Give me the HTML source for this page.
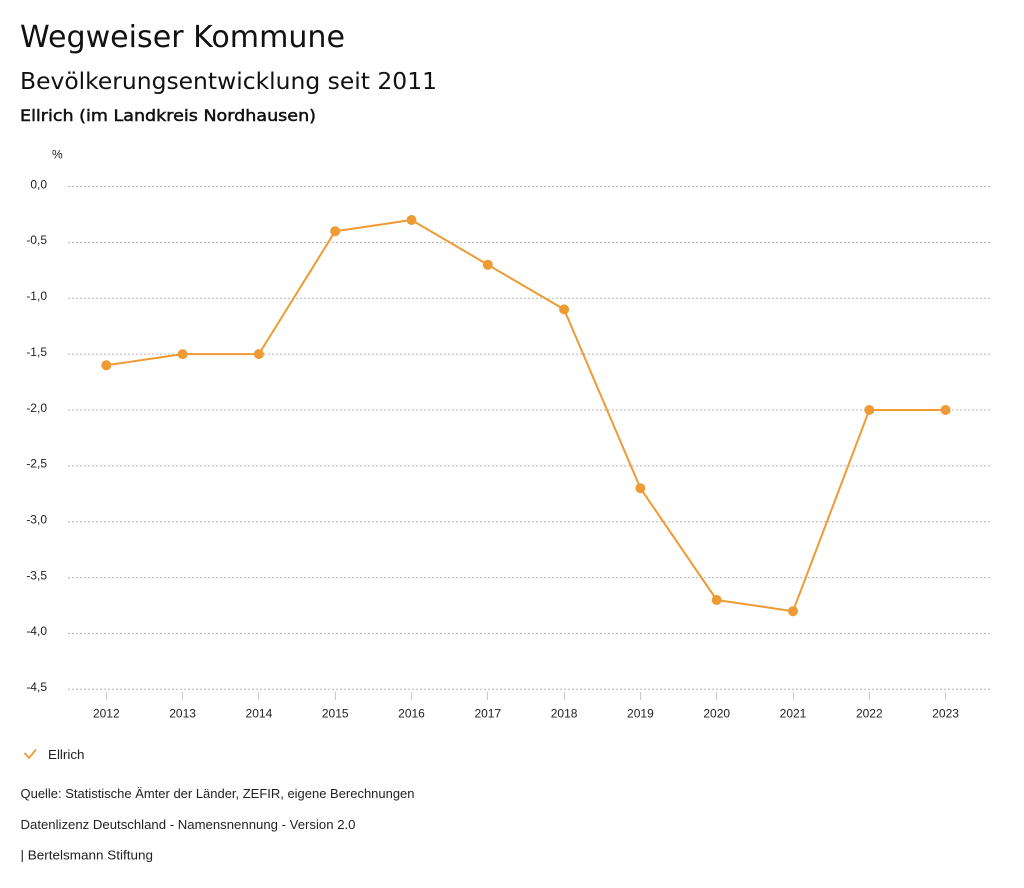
<!DOCTYPE html>
<html>
<head>
<meta charset="utf-8">
<style>
html,body{margin:0;padding:0;background:#fff;}
svg{display:block;}
</style>
</head>
<body>
<svg width="1024" height="888" viewBox="0 0 1024 888" xmlns="http://www.w3.org/2000/svg">
<rect width="1024" height="888" fill="#fff"/>
<g font-family="'DejaVu Sans', sans-serif" fill="#111">
<text x="20" y="47" font-size="30" textLength="325" lengthAdjust="spacingAndGlyphs">Wegweiser Kommune</text>
<text x="20" y="89" font-size="23.5" textLength="417" lengthAdjust="spacingAndGlyphs">Bevölkerungsentwicklung seit 2011</text>
<text x="20" y="121" font-size="16" stroke="#111" stroke-width="0.5" textLength="296" lengthAdjust="spacingAndGlyphs">Ellrich (im Landkreis Nordhausen)</text>
</g>
<g font-family="'Liberation Sans', sans-serif" font-size="12" fill="#222">
<text x="52" y="158.5">%</text>
<g text-anchor="end">
<text x="47" y="188.3">0,0</text>
<text x="47" y="244.2">-0,5</text>
<text x="47" y="300">-1,0</text>
<text x="47" y="355.9">-1,5</text>
<text x="47" y="411.8">-2,0</text>
<text x="47" y="467.6">-2,5</text>
<text x="47" y="523.5">-3,0</text>
<text x="47" y="579.4">-3,5</text>
<text x="47" y="635.2">-4,0</text>
<text x="47" y="691.1">-4,5</text>
</g>
</g>
<g stroke="#b5b5b5" stroke-width="1" stroke-dasharray="2,2">
<line x1="68" y1="186.5" x2="990" y2="186.5"/>
<line x1="68" y1="242.4" x2="990" y2="242.4"/>
<line x1="68" y1="298.2" x2="990" y2="298.2"/>
<line x1="68" y1="354.1" x2="990" y2="354.1"/>
<line x1="68" y1="410" x2="990" y2="410"/>
<line x1="68" y1="465.9" x2="990" y2="465.9"/>
<line x1="68" y1="521.7" x2="990" y2="521.7"/>
<line x1="68" y1="577.6" x2="990" y2="577.6"/>
<line x1="68" y1="633.5" x2="990" y2="633.5"/>
<line x1="68" y1="689.3" x2="990" y2="689.3"/>
</g>
<g stroke="#c8c8c8" stroke-width="1">
<line x1="106.5" y1="692" x2="106.5" y2="700"/>
<line x1="182.5" y1="692" x2="182.5" y2="700"/>
<line x1="258.5" y1="692" x2="258.5" y2="700"/>
<line x1="335.5" y1="692" x2="335.5" y2="700"/>
<line x1="411.5" y1="692" x2="411.5" y2="700"/>
<line x1="487.5" y1="692" x2="487.5" y2="700"/>
<line x1="564.5" y1="692" x2="564.5" y2="700"/>
<line x1="640.5" y1="692" x2="640.5" y2="700"/>
<line x1="716.5" y1="692" x2="716.5" y2="700"/>
<line x1="793.5" y1="692" x2="793.5" y2="700"/>
<line x1="869.5" y1="692" x2="869.5" y2="700"/>
<line x1="945.5" y1="692" x2="945.5" y2="700"/>
</g>
<g font-family="'Liberation Sans', sans-serif" font-size="12" fill="#222" text-anchor="middle">
<text x="106.3" y="717.5">2012</text>
<text x="182.6" y="717.5">2013</text>
<text x="258.9" y="717.5">2014</text>
<text x="335.2" y="717.5">2015</text>
<text x="411.5" y="717.5">2016</text>
<text x="487.8" y="717.5">2017</text>
<text x="564.1" y="717.5">2018</text>
<text x="640.4" y="717.5">2019</text>
<text x="716.7" y="717.5">2020</text>
<text x="793" y="717.5">2021</text>
<text x="869.3" y="717.5">2022</text>
<text x="945.6" y="717.5">2023</text>
</g>
<polyline fill="none" stroke="#ee9a35" stroke-width="2" stroke-linejoin="round"
points="106.3,365.3 182.6,354.1 258.9,354.1 335.2,231.2 411.5,220 487.8,264.7 564.1,309.4 640.4,488.2 716.7,600 793,611.2 869.3,410 945.6,410"/>
<g fill="#ee9a35">
<circle cx="106.3" cy="365.3" r="5"/>
<circle cx="182.6" cy="354.1" r="5"/>
<circle cx="258.9" cy="354.1" r="5"/>
<circle cx="335.2" cy="231.2" r="5"/>
<circle cx="411.5" cy="220" r="5"/>
<circle cx="487.8" cy="264.7" r="5"/>
<circle cx="564.1" cy="309.4" r="5"/>
<circle cx="640.4" cy="488.2" r="5"/>
<circle cx="716.7" cy="600" r="5"/>
<circle cx="793" cy="611.2" r="5"/>
<circle cx="869.3" cy="410" r="5"/>
<circle cx="945.6" cy="410" r="5"/>
</g>
<polyline fill="none" stroke="#ee9a35" stroke-width="1.8" points="24.5,753 29,758 36,749.5"/>
<g font-family="'Liberation Sans', sans-serif" font-size="12.5" fill="#222">
<text x="48" y="758.8" textLength="36.5" lengthAdjust="spacingAndGlyphs">Ellrich</text>
<text x="20.5" y="797.8" textLength="394" lengthAdjust="spacingAndGlyphs">Quelle: Statistische Ämter der Länder, ZEFIR, eigene Berechnungen</text>
<text x="20.5" y="828.8" textLength="335" lengthAdjust="spacingAndGlyphs">Datenlizenz Deutschland - Namensnennung - Version 2.0</text>
<text x="20.5" y="859.5" textLength="132.5" lengthAdjust="spacingAndGlyphs">| Bertelsmann Stiftung</text>
</g>
</svg>
</body>
</html>
